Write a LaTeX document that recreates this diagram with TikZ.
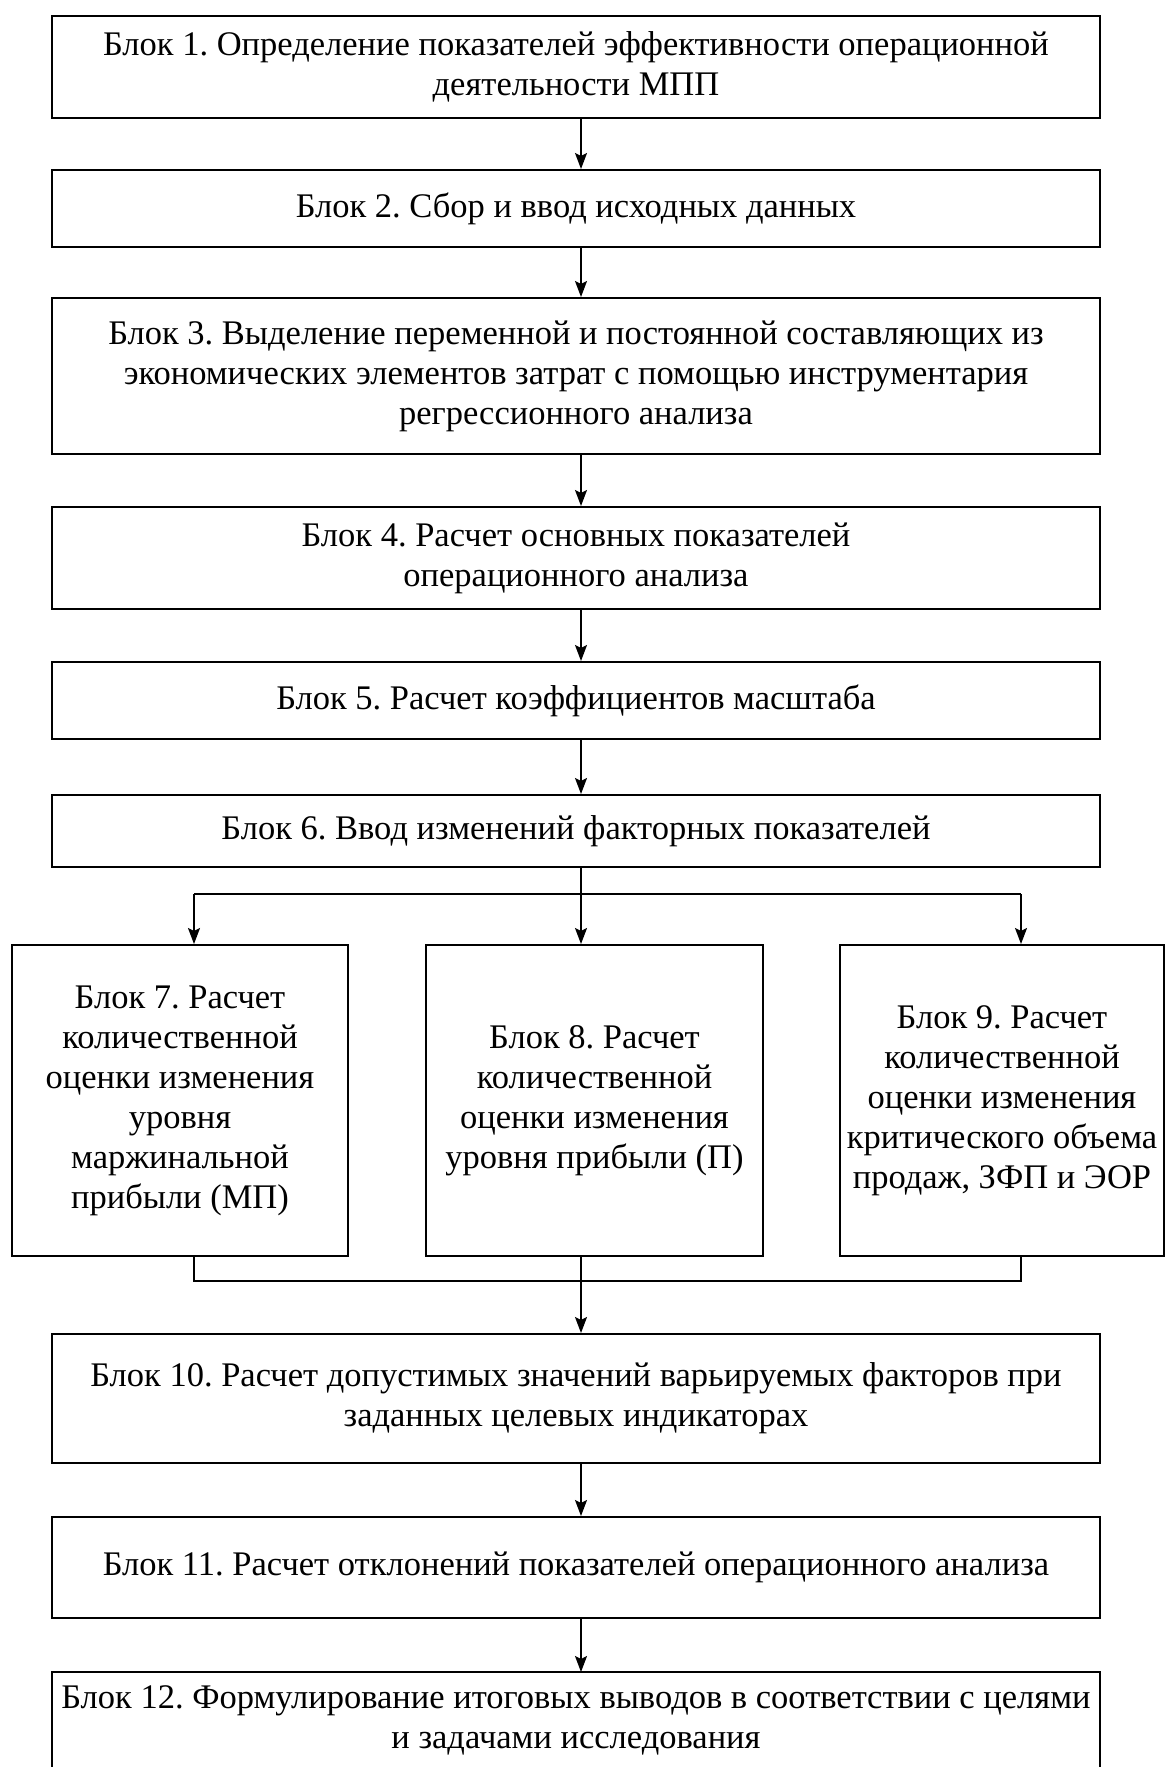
\documentclass[tikz,border=0pt]{standalone}
\usepackage{fontspec}
\setmainfont{Liberation Serif}
\usetikzlibrary{arrows.meta}
\frenchspacing
\begin{document}
\begin{tikzpicture}[x=0.5pt,y=-0.5pt,
 blk/.style={draw, line width=1pt, align=center, inner sep=0pt, font=\fontsize{17.25}{20}\selectfont},
 txt/.style={align=center, inner sep=0pt, font=\fontsize{17.25}{20}\selectfont},
 arr/.style={-{Stealth[length=8pt,width=6pt,inset=1.5pt]}, line width=0.8pt},
 ln/.style={line width=0.8pt}]
\useasboundingbox (0,0) rectangle (1166,1767);
\fill[white] (0,0) rectangle (1166,1767);
\coordinate (ax) at (581,0);
\node[blk, minimum width=524pt, minimum height=51pt] (b1) at (576,67) {Блок 1. Определение показателей эффективности операционной\\деятельности МПП};
\node[blk, minimum width=524pt, minimum height=38.5pt] (b2) at (576,208.5) {Блок 2. Сбор и ввод исходных данных};
\node[blk, minimum width=524pt, minimum height=78pt] (b3) at (576,376) {Блок 3. Выделение переменной и постоянной составляющих из\\экономических элементов затрат с помощью инструментария\\регрессионного анализа};
\node[blk, minimum width=524pt, minimum height=51pt] (b4) at (576,558) {Блок 4. Расчет основных показателей\\операционного анализа};
\node[blk, minimum width=524pt, minimum height=38.5pt] (b5) at (576,700.5) {Блок 5. Расчет коэффициентов масштаба};
\node[blk, minimum width=524pt, minimum height=36pt] (b6) at (576,831) {Блок 6. Ввод изменений факторных показателей};
\node[blk, minimum width=168pt, minimum height=155.5pt] (b7) at (180,1100.5) {Блок 7. Расчет\\количественной\\оценки изменения\\уровня\\маржинальной\\прибыли (МП)};
\node[blk, minimum width=168.5pt, minimum height=155.5pt] (b8) at (594.5,1100.5) {Блок 8. Расчет\\количественной\\оценки изменения\\уровня прибыли (П)};
\node[blk, minimum width=162pt, minimum height=155.5pt] (b9) at (1002,1100.5) {Блок 9. Расчет\\количественной\\оценки изменения\\критического объема\\продаж, ЗФП и ЭОР};
\node[blk, minimum width=524pt, minimum height=64.5pt] (b10) at (576,1398.5) {Блок 10. Расчет допустимых значений варьируемых факторов при\\заданных целевых индикаторах};
\node[blk, minimum width=524pt, minimum height=50.5pt] (b11) at (576,1567.5) {Блок 11. Расчет отклонений показателей операционного анализа};
\draw[line width=1pt] (52,1800) -- (52,1672) -- (1100,1672) -- (1100,1800);
\node[txt] (b12) at (576,1720) {Блок 12. Формулирование итоговых выводов в соответствии с целями\\и задачами исследования};
\coordinate (b12top) at (581,1672);
\draw[arr] (b1.south -| ax) -- (b2.north -| ax);
\draw[arr] (b2.south -| ax) -- (b3.north -| ax);
\draw[arr] (b3.south -| ax) -- (b4.north -| ax);
\draw[arr] (b4.south -| ax) -- (b5.north -| ax);
\draw[arr] (b5.south -| ax) -- (b6.north -| ax);
\coordinate (bl) at (194,894);
\coordinate (br) at (1021,894);
\draw[arr] (b6.south -| ax) -- (b8.north -| ax);
\draw[ln] (bl) -- (br);
\draw[arr] (bl) -- (b7.north -| bl);
\draw[arr] (br) -- (b9.north -| br);
\coordinate (ml) at (194,1281);
\coordinate (mr) at (1021,1281);
\draw[ln] (b7.south -| ml) -- (ml) -- (mr) -- (b9.south -| mr);
\draw[arr] (b8.south -| ax) -- (b10.north -| ax);
\draw[arr] (b10.south -| ax) -- (b11.north -| ax);
\draw[arr] (b11.south -| ax) -- (b12top);
\end{tikzpicture}
\end{document}
